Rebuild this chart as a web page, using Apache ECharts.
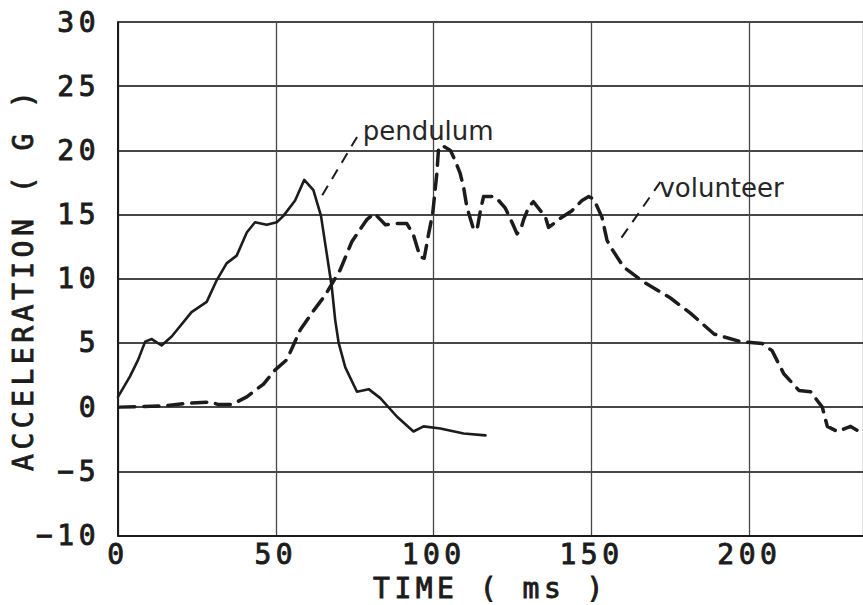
<!DOCTYPE html>
<html>
<head>
<meta charset="utf-8">
<script src="https://cdn.jsdelivr.net/npm/echarts@6/dist/echarts.min.js"></script>
<style>
html,body{margin:0;padding:0;background:#fff;}
#chart{width:863px;height:605px;}
#chart svg text[style*="Mono"], #chart svg text[font-family*="Mono"]{letter-spacing:4.5px;}
</style>
</head>
<body>
<div id="chart"></div>
<script>
// ---- data ----
var yTicks = [30, 25, 20, 15, 10, 5, 0, -5, -10];
var xTicks = [0, 50, 100, 150, 200];

var pendulumT = [0, 3.8, 6.4, 8.6, 10.7, 13.8, 17, 23.3, 28.1, 31.3, 34.4, 37.6, 40.8, 43.4, 47.1, 50.3, 52.4, 56.1, 59, 61.9, 64.3, 66.1, 67.7, 68.8, 69.9, 72, 75.7, 79.4, 83.1, 88.4, 93.6, 96.8, 102.1, 109.5, 116.4];
var pendulumV = [0.8, 2.4, 3.7, 5.1, 5.3, 4.8, 5.5, 7.4, 8.2, 9.9, 11.2, 11.8, 13.6, 14.4, 14.2, 14.4, 14.9, 16.1, 17.7, 16.9, 14.9, 12.0, 9.4, 6.8, 5.0, 3.1, 1.2, 1.4, 0.7, -0.75, -1.9, -1.5, -1.66, -2.05, -2.2];

var volunteerT = [0.6, 14.4, 22.3, 29.2, 31.8, 36.0, 40.8, 46.1, 49.8, 53.5, 57.7, 61.9, 65.6, 70.4, 74.1, 78.8, 81.2, 84.7, 87.8, 91.5, 93.6, 95.7, 97, 98.4, 99.7, 101, 101.5, 102.6, 105.3, 106.8, 108.4, 109.5, 110.5, 111.1, 112.7, 113.8, 114.8, 115.8, 119.5, 122.7, 124.8, 126.4, 127.5, 128.5, 130.1, 131.6, 135.4, 136.4, 138, 140.1, 143.8, 147, 149.1, 150.7, 153.3, 154.9, 156.5, 160.2, 166.5, 175, 181.4, 188.8, 197.2, 204.1, 207.2, 210.9, 215.7, 219.4, 223.1, 224.7, 227.9, 232.1, 235.5];
var volunteerV = [0, 0.1, 0.3, 0.4, 0.2, 0.2, 0.8, 1.8, 2.9, 3.7, 6.0, 7.5, 8.7, 10.7, 12.9, 14.6, 15.1, 14.2, 14.3, 14.3, 13.4, 11.7, 11.6, 13.5, 15.1, 18.2, 20.0, 20.4, 20.0, 19.2, 18.2, 17.1, 15.6, 15.1, 13.8, 13.9, 15.3, 16.4, 16.4, 15.5, 14.4, 13.5, 13.8, 14.6, 15.6, 16.0, 14.8, 14.0, 14.3, 14.7, 15.3, 16.1, 16.4, 16.2, 14.8, 13.0, 12.3, 10.9, 9.75, 8.5, 7.3, 5.7, 5.1, 4.95, 4.4, 2.6, 1.3, 1.2, 0, -1.5, -1.9, -1.5, -2.0];

var labelNames = ['pendulum', 'volunteer'];
var labelT = [77.5, 171.5];
var labelV = [21.5, 17.1];
var leaderPendulum = [[64.7, 16.5], [76.1, 21.2]];
var leaderVolunteer = [[159.5, 13.2], [172, 17.6]];

function zip(a, b) { return a.map(function (v, i) { return [v, b[i]]; }); }

var ink = '#1c1c1c';
var gridInk = '#474747';
var monoFont = '"DejaVu Sans Mono", monospace';
var handFont = '"DejaVu Sans", sans-serif';
var monoText = {fontFamily: monoFont, fontSize: 28, fontWeight: 'normal', color: ink,
  textBorderColor: ink, textBorderWidth: 0.9};

var chart = echarts.init(document.getElementById('chart'), null, {renderer: 'svg'});
chart.setOption({
  backgroundColor: '#ffffff',
  animation: false,
  grid: {left: 118, right: 0, top: 22, bottom: 69.5, containLabel: false, outerBoundsMode: 'none'},
  xAxis: {
    type: 'value', min: 0, max: 236, interval: 50,
    name: 'TIME ( ms )', nameLocation: 'middle', nameGap: 38,
    nameTextStyle: monoText,
    axisLine: {show: true, onZero: false, lineStyle: {color: ink, width: 2}},
    axisTick: {show: false},
    axisLabel: Object.assign({margin: 5, showMaxLabel: false,
      formatter: function (v) { return xTicks.indexOf(v) >= 0 ? String(v) : ''; }}, monoText),
    splitLine: {show: true, lineStyle: {color: gridInk, width: 1.3}}
  },
  yAxis: {
    type: 'value', min: -10, max: 30,
    name: 'ACCELERATION ( G )', nameLocation: 'middle', nameGap: 81, nameRotate: 90,
    nameTextStyle: monoText,
    axisLine: {show: true, onZero: false, lineStyle: {color: ink, width: 2}},
    axisTick: {show: false, customValues: yTicks},
    axisLabel: Object.assign({margin: 18, customValues: yTicks,
      formatter: function (v) { return String(v).replace('-', '\u2212'); }}, monoText),
    splitLine: {show: true, lineStyle: {color: gridInk, width: 2}}
  },
  series: [
    {
      name: 'pendulum', type: 'line', data: zip(pendulumT, pendulumV),
      showSymbol: false, symbol: 'none', smooth: false,
      lineStyle: {color: ink, width: 2.6, join: 'round', cap: 'round'},
      markLine: {
        silent: true, symbol: 'none', label: {show: false},
        lineStyle: {color: ink, width: 2, type: [11, 8]},
        data: [[{coord: leaderPendulum[0]}, {coord: leaderPendulum[1]}]]
      },
      markPoint: {
        silent: true, symbol: 'circle', symbolSize: 0,
        label: {show: true, position: 'right', distance: 0, formatter: labelNames[0],
          fontFamily: handFont, fontSize: 26, color: '#262626'},
        data: [{coord: [labelT[0], labelV[0]]}]
      }
    },
    {
      name: 'volunteer', type: 'line', data: zip(volunteerT, volunteerV),
      showSymbol: false, symbol: 'none', smooth: false,
      lineStyle: {color: ink, width: 3.5, type: [15, 9], cap: 'round', join: 'round'},
      markLine: {
        silent: true, symbol: 'none', label: {show: false},
        lineStyle: {color: ink, width: 2, type: [11, 8]},
        data: [[{coord: leaderVolunteer[0]}, {coord: leaderVolunteer[1]}]]
      },
      markPoint: {
        silent: true, symbol: 'circle', symbolSize: 0,
        label: {show: true, position: 'right', distance: 0, formatter: labelNames[1],
          fontFamily: handFont, fontSize: 26, color: '#262626'},
        data: [{coord: [labelT[1], labelV[1]]}]
      }
    }
  ]
});
</script>
</body>
</html>
